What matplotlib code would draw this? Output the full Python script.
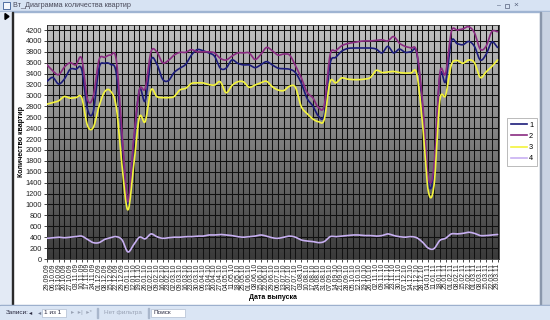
import numpy as np
import matplotlib
matplotlib.use("Agg")
import matplotlib.pyplot as plt
from matplotlib.patches import Rectangle, Polygon
from matplotlib.lines import Line2D
from matplotlib.colors import LinearSegmentedColormap

# ---------------- data ----------------
dates = ["29.09.09", "06.10.09", "13.10.09", "20.10.09", "27.10.09", "03.11.09", "10.11.09",
         "17.11.09", "24.11.09", "01.12.09", "08.12.09", "15.12.09", "22.12.09", "29.12.09",
         "05.01.10", "12.01.10", "19.01.10", "26.01.10", "02.02.10", "09.02.10", "16.02.10",
         "23.02.10", "02.03.10", "09.03.10", "16.03.10", "23.03.10", "30.03.10", "06.04.10",
         "13.04.10", "20.04.10", "27.04.10", "04.05.10", "11.05.10", "18.05.10", "25.05.10",
         "01.06.10", "08.06.10", "15.06.10", "22.06.10", "29.06.10", "06.07.10", "13.07.10",
         "20.07.10", "27.07.10", "03.08.10", "10.08.10", "17.08.10", "24.08.10", "31.08.10",
         "07.09.10", "14.09.10", "21.09.10", "28.09.10", "05.10.10", "12.10.10", "19.10.10",
         "26.10.10", "02.11.10", "09.11.10", "16.11.10", "23.11.10", "30.11.10", "07.12.10",
         "14.12.10", "21.12.10", "28.12.10", "04.01.11", "11.01.11", "18.01.11", "25.01.11",
         "01.02.11", "08.02.11", "15.02.11", "22.02.11", "01.03.11", "08.03.11", "15.03.11",
         "22.03.11", "29.03.11"]

s1 = [3260, 3330, 3210, 3300, 3480, 3480, 3480, 2750, 2700, 3500, 3590, 3570, 3400, 2200,
      1000, 2100, 3100, 2900, 3650, 3580, 3300, 3270, 3420, 3500, 3570, 3740, 3840, 3820,
      3780, 3720, 3500, 3500, 3650, 3590, 3560, 3560, 3510, 3560, 3620, 3560, 3500, 3490,
      3480, 3420, 3230, 2950, 2810, 2620, 2650, 3580, 3700, 3810, 3860, 3870, 3870, 3870,
      3870, 3850, 3780, 3900, 3780, 3850, 3790, 3800, 3780, 2800, 1400, 1600, 3350, 3250,
      3990, 3950, 3930, 3990, 3900, 3650, 3750, 3980, 3880]

s2 = [3560, 3450, 3380, 3520, 3600, 3560, 3680, 2930, 2980, 3650, 3700, 3740, 3650, 2300,
      1050, 2200, 3100, 3130, 3800, 3800, 3600, 3640, 3740, 3790, 3790, 3840, 3800, 3800,
      3800, 3780, 3680, 3650, 3720, 3780, 3780, 3780, 3660, 3750, 3880, 3820, 3740, 3760,
      3740, 3550, 3330, 3060, 2960, 2780, 2820, 3740, 3820, 3910, 3950, 3970, 3990, 4000,
      4000, 4010, 4020, 4000, 4080, 3960, 3900, 3870, 3800, 2900, 1500, 1700, 3400, 3400,
      4170, 4200, 4220, 4260, 4150, 3850, 3900, 4170, 4170]

s3 = [2840, 2870, 2900, 2980, 2950, 2960, 2960, 2450, 2410, 2800, 3070, 3080, 2780, 1700,
      900, 1700, 2600, 2520, 3100, 2980, 2960, 2960, 2980, 3100, 3130, 3220, 3230, 3230,
      3200, 3190, 3250, 3050, 3180, 3250, 3250, 3150, 3190, 3230, 3260, 3160, 3100, 3090,
      3170, 3150, 2800, 2670, 2570, 2520, 2560, 3250, 3230, 3320, 3300, 3290, 3290, 3300,
      3330, 3460, 3420, 3430, 3440, 3420, 3410, 3410, 3400, 2500, 1250, 1350, 2900, 3000,
      3560, 3640, 3590, 3650, 3600, 3330, 3430, 3530, 3650]

s4 = [380, 390, 400, 390, 400, 410, 420, 360, 300, 300, 360, 390, 410, 350,
      130, 260, 400, 370, 460, 410, 380, 390, 400, 400, 410, 410, 420, 420,
      440, 440, 450, 440, 430, 410, 400, 410, 420, 440, 420, 390, 380, 400,
      420, 400, 350, 330, 320, 300, 320, 410, 410, 420, 430, 440, 440, 430,
      430, 420, 430, 460, 430, 410, 400, 410, 390, 310, 200, 190, 340, 380,
      460, 460, 470, 490, 470, 430, 430, 440, 450]

series_names = ["1", "2", "3", "4"]
series_values = [s1, s2, s3, s4]
colors = ["#1c1c7a", "#8a2c82", "#f4f43c", "#c8b0f2"]

yticks = list(range(0, 4201, 200))

# ---------------- helpers ----------------
def smooth(xs, ys, n=12):
    xs = np.asarray(xs, float)
    ys = np.asarray(ys, float)
    px = np.concatenate([[2 * xs[0] - xs[1]], xs, [2 * xs[-1] - xs[-2]]])
    py = np.concatenate([[2 * ys[0] - ys[1]], ys, [2 * ys[-1] - ys[-2]]])
    ox, oy = [], []
    t = np.linspace(0, 1, n, endpoint=False)
    for i in range(1, len(px) - 2):
        p0, p1, p2, p3 = py[i - 1], py[i], py[i + 1], py[i + 2]
        q0, q1, q2, q3 = px[i - 1], px[i], px[i + 1], px[i + 2]
        f = lambda a, b, c, d: 0.5 * ((2 * b) + (-a + c) * t + (2 * a - 5 * b + 4 * c - d) * t ** 2
                                      + (-a + 3 * b - 3 * c + d) * t ** 3)
        ox.append(f(q0, q1, q2, q3))
        oy.append(f(p0, p1, p2, p3))
    ox.append([xs[-1]])
    oy.append([ys[-1]])
    return np.concatenate(ox), np.concatenate(oy)

# ---------------- figure ----------------
plt.rcParams['font.family'] = ['Liberation Sans', 'DejaVu Sans']
W, H = 550, 320
fig = plt.figure(figsize=(5.5, 3.2), dpi=100)
fig.patch.set_facecolor("white")

bg = fig.add_axes([0, 0, 1, 1])
bg.set_xlim(0, W)
bg.set_ylim(H, 0)
bg.axis("off")

# title bar
bg.add_patch(Rectangle((0, 0), W, 11, color="#d7e3f3", zorder=1))
bg.add_patch(Rectangle((0, 10.5), W, 1, color="#9fb4d2", zorder=1))
bg.add_patch(Rectangle((3, 2), 7, 7, facecolor="#f4f7fc", edgecolor="#3a5c94", lw=0.6, zorder=2))
bg.text(13, 5.5, "Вт_Диаграмма количества квартир", fontsize=5.2, color="#4a4a5a",
        va="center", ha="left", zorder=3)
bg.text(499, 5.5, "–", fontsize=5, color="#55607a", va="center", ha="center", zorder=3)
bg.add_patch(Rectangle((505, 3.5), 4, 4, facecolor="none", edgecolor="#55607a", lw=0.5, zorder=3))
bg.text(516, 5.5, "×", fontsize=6, color="#55607a", va="center", ha="center", zorder=3)

# left record selector strip
bg.add_patch(Rectangle((0, 11.5), 12, 294, color="#e3eaf5", zorder=1))
bg.add_patch(Rectangle((12, 11.5), 1.2, 294, color="#2a2a2a", zorder=1))
bg.add_patch(Polygon([[5, 13.5], [9, 16.5], [5, 19.5]], closed=True, color="black", zorder=2))

# right strip
bg.add_patch(Rectangle((540, 11.5), 10, 294, color="#c9d3e2", zorder=1))
bg.add_patch(Rectangle((540, 11.5), 0.8, 294, color="#8a97ab", zorder=1))

# status bar
bg.add_patch(Rectangle((0, 304.5), W, 1, color="#8fa4c4", zorder=1))
bg.add_patch(Rectangle((0, 305.5), W, 14.5, color="#dae5f4", zorder=1))
sy = 312.5
bg.text(6, sy, "Записи:", fontsize=4.6, color="#2a2a40", va="center", zorder=3)
bg.text(29, sy, "◂", fontsize=4.6, color="#2a2a40", va="center", zorder=3)
bg.text(38, sy, "◂", fontsize=4.6, color="#707890", va="center", zorder=3)
bg.add_patch(Rectangle((42, 308.5), 24, 8, facecolor="#ffffff", edgecolor="#b0bdd2", lw=0.5, zorder=2))
bg.text(44, sy, "1 из 1", fontsize=4.6, color="#2a2a40", va="center", zorder=3)
bg.text(71, sy, "▸  ▸|  ▸*", fontsize=4.6, color="#9aa3b5", va="center", zorder=3)
bg.add_patch(Rectangle((97, 307.5), 0.6, 10, color="#a9b7cc", zorder=2))
bg.text(104, sy, "Нет фильтра", fontsize=4.6, color="#9aa3b5", va="center", zorder=3)
bg.add_patch(Rectangle((148, 307.5), 0.6, 10, color="#a9b7cc", zorder=2))
bg.add_patch(Rectangle((151, 308.5), 34, 8, facecolor="#ffffff", edgecolor="#b0bdd2", lw=0.5, zorder=2))
bg.text(153, sy, "Поиск", fontsize=4.6, color="#2a2a40", va="center", zorder=3)

# ---------------- chart ----------------
left, right, top, bottom = 47, 499, 25, 259
ax = fig.add_axes([left / W, 1 - bottom / H, (right - left) / W, (bottom - top) / H])
n = len(dates)
xs = np.arange(n)
xmin, xmax = 0, n - 1 + 0.25
ymax = 4292
ax.set_xlim(xmin, xmax)
ax.set_ylim(0, ymax)

cmap = LinearSegmentedColormap.from_list("g", ["#c2c2c2", "#7e7e7e", "#3a3a3a"])
grad = np.linspace(0, 1, 256)[:, None]
ax.imshow(grad, extent=[xmin, xmax, 0, ymax], aspect="auto", cmap=cmap, zorder=0,
          interpolation="bilinear")

ax.set_xticks(xs)
ax.set_xticklabels(dates, rotation=90, fontsize=4.9, color="#222222")
ax.set_yticks(yticks)
ax.set_yticklabels([str(v) for v in yticks], fontsize=5.3, color="#222222")
ax.tick_params(axis="x", length=2, width=0.5, pad=1)
ax.tick_params(axis="y", length=2, width=0.5, pad=1.5)
ax.grid(True, color="#111111", lw=0.75)
for sp in ax.spines.values():
    sp.set_color("#333333")
    sp.set_linewidth(0.6)

handles = []
for name, vals, c in zip(series_names, series_values, colors):
    sx, sy_ = smooth(xs, vals)
    ax.plot(sx, sy_, color=c, lw=1.2, zorder=3, solid_capstyle="round")
    handles.append(Line2D([0], [0], color=c, lw=1.2, label=name))

ax.set_ylabel("Количество квартир", fontsize=5, fontweight="bold", labelpad=0.5)
ax.set_xlabel("Дата выпуска", fontsize=5, fontweight="bold", labelpad=3)

leg = ax.legend(handles=handles, loc="upper left", bbox_to_anchor=(507 / W, 1 - 118 / H),
                bbox_transform=fig.transFigure, fontsize=5.3, frameon=True, fancybox=False,
                edgecolor="#888888", handlelength=2.2, handletextpad=0.3, labelspacing=0.55,
                borderpad=0.5, borderaxespad=0)
leg.get_frame().set_linewidth(0.5)

fig.savefig("out.png", dpi=100)
